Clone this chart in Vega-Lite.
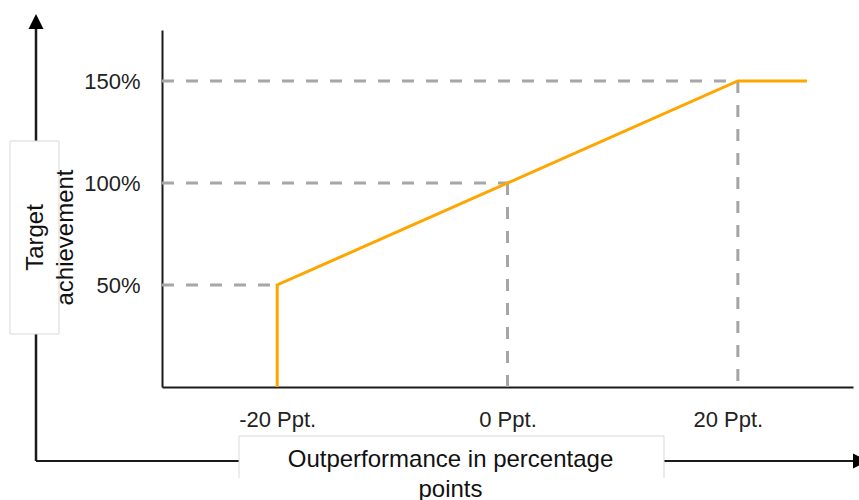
{
  "$schema": "https://vega.github.io/schema/vega-lite/v6.json",
  "width": 691,
  "height": 357,
  "autosize": "none",
  "padding": {"left": 162, "top": 30, "right": 6, "bottom": 113},
  "background": "white",
  "config": {
    "view": {"stroke": null},
    "font": "Liberation Sans",
    "axis": {"grid": false, "ticks": false, "tickSize": 0, "domainColor": "#1a1a1a", "domainWidth": 2, "labelFont": "Liberation Sans", "labelFontSize": 22, "labelColor": "#222222", "labelPadding": 22}
  },
  "data": {"values": [{"item": "decoration"}]},
  "datasets": {
    "guides": [
      {"xa": -30, "xb": -20, "ya": 50, "yb": 50},
      {"xa": -30, "xb": 0, "ya": 100, "yb": 100},
      {"xa": -30, "xb": 20, "ya": 150, "yb": 150},
      {"xa": 0, "xb": 0, "ya": 100, "yb": 0},
      {"xa": 20, "xb": 20, "ya": 150, "yb": 0}
    ],
    "curve": [
      {"order": 1, "outperformance": -20, "achievement": 0},
      {"order": 2, "outperformance": -20, "achievement": 50},
      {"order": 3, "outperformance": 20, "achievement": 150},
      {"order": 4, "outperformance": 26, "achievement": 150}
    ]
  },
  "layer": [
    {
      "data": {"name": "guides"},
      "mark": {"type": "rule", "strokeWidth": 3, "color": "#a6a6a6", "strokeDash": [12, 12]},
      "encoding": {
        "x": {"field": "xa", "type": "quantitative", "title": null, "scale": {"domain": [-30, 30], "nice": false, "zero": false}, "axis": {"values": [-20, 0, 20], "labelExpr": "datum.value + ' Ppt.'", "orient": "bottom", "title": null, "labelOffset": {"condition": {"test": "datum.value == 20", "value": -10}, "value": 0}}},
        "x2": {"field": "xb"},
        "y": {"field": "ya", "type": "quantitative", "title": null, "scale": {"domain": [0, 175], "nice": false, "zero": false}, "axis": {"values": [50, 100, 150], "labelExpr": "datum.value + '%'", "orient": "left", "title": null}},
        "y2": {"field": "yb"}
      }
    },
    {
      "mark": {"type": "rule", "strokeWidth": 2.5, "color": "#1a1a1a"},
      "encoding": {
        "x": {"datum": -40.94, "type": "quantitative"},
        "y": {"datum": -36.27, "type": "quantitative"},
        "y2": {"datum": 176}
      }
    },
    {
      "mark": {"type": "rule", "strokeWidth": 2, "color": "#1a1a1a"},
      "encoding": {
        "x": {"datum": -40.94, "type": "quantitative"},
        "x2": {"datum": 30.0},
        "y": {"datum": -36.27, "type": "quantitative"}
      }
    },
    {
      "mark": {"type": "point", "shape": "M0,-1L1,1L-1,1Z", "size": 225, "filled": true, "color": "#000000", "opacity": 1, "strokeWidth": 0},
      "encoding": {
        "x": {"datum": -40.94, "type": "quantitative"},
        "y": {"datum": 179.2, "type": "quantitative"}
      }
    },
    {
      "mark": {"type": "point", "shape": "M1,0L-1,-1L-1,1Z", "size": 225, "filled": true, "color": "#000000", "opacity": 1, "strokeWidth": 0},
      "encoding": {
        "x": {"datum": 30.65, "type": "quantitative"},
        "y": {"datum": -36.27, "type": "quantitative"}
      }
    },
    {
      "data": {"name": "curve"},
      "mark": {"type": "line", "strokeWidth": 3, "color": "#ffa500", "strokeJoin": "miter"},
      "encoding": {
        "x": {"field": "outperformance", "type": "quantitative", "title": null},
        "y": {"field": "achievement", "type": "quantitative", "title": null},
        "order": {"field": "order"}
      }
    },
    {
      "mark": {"type": "rect", "fill": "white", "stroke": "#d9d9d9", "strokeWidth": 1},
      "encoding": {
        "x": {"datum": -43.2, "type": "quantitative"},
        "x2": {"datum": -38.94},
        "y": {"datum": 120.59, "type": "quantitative"},
        "y2": {"datum": 25.98}
      }
    },
    {
      "mark": {"type": "rect", "fill": "white", "strokeWidth": 0},
      "encoding": {
        "x": {"datum": -23.31, "type": "quantitative"},
        "x2": {"datum": 13.59},
        "y": {"datum": -24.02, "type": "quantitative"},
        "y2": {"datum": -44.61}
      }
    },
    {
      "mark": {"type": "rule", "strokeWidth": 1, "color": "#d9d9d9"},
      "encoding": {
        "x": {"datum": -23.31, "type": "quantitative"},
        "x2": {"datum": 13.59},
        "y": {"datum": -24.02, "type": "quantitative"}
      }
    },
    {
      "mark": {"type": "rule", "strokeWidth": 1, "color": "#d9d9d9"},
      "encoding": {
        "x": {"datum": -23.31, "type": "quantitative"},
        "y": {"datum": -24.02, "type": "quantitative"},
        "y2": {"datum": -44.61}
      }
    },
    {
      "mark": {"type": "rule", "strokeWidth": 1, "color": "#d9d9d9"},
      "encoding": {
        "x": {"datum": 13.59, "type": "quantitative"},
        "y": {"datum": -24.02, "type": "quantitative"},
        "y2": {"datum": -44.61}
      }
    },
    {
      "mark": {"type": "text", "text": ["Target", "achievement"], "angle": 270, "align": "center", "baseline": "alphabetic", "lineHeight": 30, "fontSize": 24, "font": "Liberation Sans", "color": "#111111"},
      "encoding": {
        "x": {"datum": -40.33, "type": "quantitative"},
        "y": {"datum": 73.28, "type": "quantitative"}
      }
    },
    {
      "mark": {"type": "text", "text": ["Outperformance in percentage", "points"], "align": "center", "baseline": "alphabetic", "lineHeight": 30, "fontSize": 24, "font": "Liberation Sans", "color": "#111111"},
      "encoding": {
        "x": {"datum": -4.95, "type": "quantitative"},
        "y": {"datum": -39.46, "type": "quantitative"}
      }
    }
  ]
}
